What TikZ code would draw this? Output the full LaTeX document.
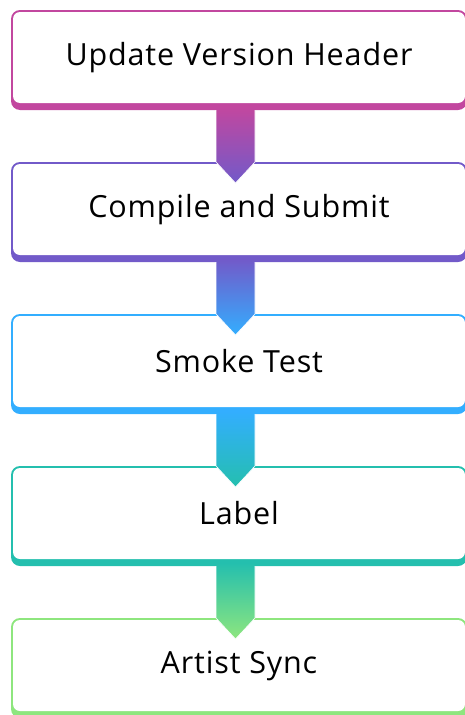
\documentclass[tikz,border=0pt]{standalone}
\usepackage{fontspec}
\setmainfont[LetterSpace=2.8]{Open Sans}
\usetikzlibrary{calc}
\definecolor{cA}{HTML}{C2479F}
\definecolor{cB}{HTML}{725AC9}
\definecolor{cC}{HTML}{33AEFF}
\definecolor{cD}{HTML}{24BFAE}
\definecolor{cE}{HTML}{8EE67E}
\tikzset{
  stepbox/.style={rectangle, rounded corners=9pt, minimum width=456pt,
    minimum height=100pt, inner sep=0pt, outer sep=0pt},
  steptext/.style={font=\fontsize{30.5}{36}\selectfont, text=black, inner sep=0pt},
}
% box: name, top y, colour, label
\newcommand\flowbox[4]{%
  \node[stepbox, fill=#3] (#1) at (239,#2+50) {};
  \fill[white, rounded corners=7pt]
    ([xshift=2pt,yshift=-2pt]#1.north west) rectangle ([xshift=-2pt,yshift=7pt]#1.south east);
  \node[steptext] (#1t) at (239,#2+47.5) {#4};
}
% gradient arrow from one box to the next, with a light rim along its sides
\newcommand\flowarrow[4]{%
  \shade[top color=#3, bottom color=#4]
    ($(#1.south)+(-23,-3)$) -- ($(#2.north)+(-23,0)$)
    -- ($(#2.north)+(-3.5,21)$) -- ($(#2.north)+(16,0)$) -- ($(#1.south)+(16,-3)$) -- cycle;
  \draw[white, line width=0.6pt, line join=round]
    ($(#1.south)+(-23,0)$) -- ($(#2.north)+(-23,0)$)
    -- ($(#2.north)+(-3.5,21)$) -- ($(#2.north)+(16,0)$) -- ($(#1.south)+(16,0)$);
}
\begin{document}
\begin{tikzpicture}[x=1pt,y=-1pt]
  \useasboundingbox (0,0) rectangle (465,715);
  \begin{scope}
    \clip (0,0) rectangle (465,715);
    \flowbox{b1}{10}{cA}{Update Version Header}
    \flowbox{b2}{162}{cB}{Compile and Submit}
    \flowbox{b3}{314}{cC}{Smoke Test}
    \flowbox{b4}{466}{cD}{Label}
    \flowbox{b5}{618}{cE}{Artist Sync}
    \flowarrow{b1}{b2}{cA}{cB}
    \flowarrow{b2}{b3}{cB}{cC}
    \flowarrow{b3}{b4}{cC}{cD}
    \flowarrow{b4}{b5}{cD}{cE}
  \end{scope}
\end{tikzpicture}
\end{document}
